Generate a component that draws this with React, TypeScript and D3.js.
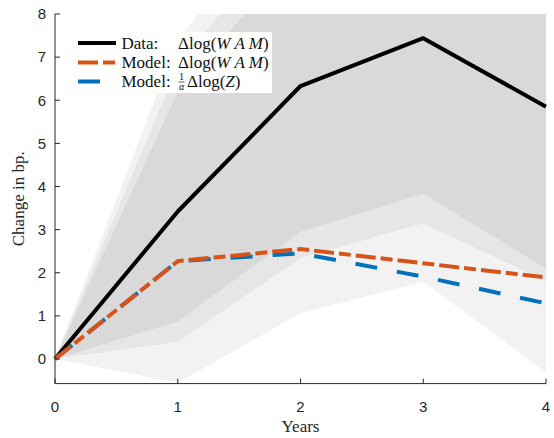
import * as d3 from 'd3';

// horizon in years
const years = [0, 1, 2, 3, 4];

// impulse responses (change in bp.)
const dataWAM = [0, 3.42, 6.33, 7.44, 5.85];
const modelWAM = [0, 2.27, 2.55, 2.22, 1.89];
const modelZ = [0, 2.27, 2.45, 1.91, 1.29];

// confidence bands around the data response, inner -> outer
const innerLo = [0, 0.87, 2.95, 3.83, 2.1];
const innerHi = [0, 6.2, 9.5, 11, 10];
const midLo = [0, 0.4, 2.34, 3.15, 1.8];
const midHi = [0, 6.8, 10.3, 12, 11];
const outerLo = [0, -0.55, 1.06, 1.79, -0.3];
const outerHi = [0, 7.4, 11, 13, 12];

const yTicks = [0, 1, 2, 3, 4, 5, 6, 7, 8];
const xTicks = [0, 1, 2, 3, 4];

const width = 554;
const height = 438;
const margin = { top: 14, right: 8, bottom: 54.4, left: 55 };

const axisColor = '#262626';
const sans = '"Liberation Sans", Arial, sans-serif';
const serif = '"Liberation Serif", "Times New Roman", serif';

function App() {
  const x = d3.scaleLinear().domain([0, 4]).range([margin.left, width - margin.right]);
  const y = d3.scaleLinear().domain([-0.57, 8]).range([height - margin.bottom, margin.top]);

  const band = (lo: number[], hi: number[]) =>
    d3.area<number>()
      .x((d) => x(d))
      .y0((d, i) => y(lo[i]))
      .y1((d, i) => y(hi[i]))(years) || '';

  const line = (vals: number[]) =>
    d3.line<number>()
      .x((d) => x(d))
      .y((d, i) => y(vals[i]))(years) || '';

  const [x0, x1] = x.range();
  const [yb, yt] = y.range();

  return (
    <svg width={width} height={height} style={{ position: 'fixed', left: 0, top: 0, background: '#fff' }}>
      <defs>
        <clipPath id="plot">
          <rect x={x0} y={yt} width={x1 - x0} height={yb - yt} />
        </clipPath>
      </defs>

      {/* shaded bands */}
      <g clipPath="url(#plot)">
        <path d={band(outerLo, outerHi)} fill="#f2f2f2" />
        <path d={band(midLo, midHi)} fill="#e6e6e6" />
        <path d={band(innerLo, innerHi)} fill="#d9d9d9" />
      </g>

      {/* lines */}
      <g fill="none" strokeWidth={4}>
        <path d={line(dataWAM)} stroke="#000" strokeLinejoin="round" />
        <path d={line(modelZ)} stroke="#0072bd" strokeDasharray="22,20" />
        <path d={line(modelWAM)} stroke="#d95319" strokeDasharray="20,5,12,5" />
      </g>

      {/* axes */}
      <g stroke={axisColor} strokeWidth={1} fill="none">
        <line x1={x0} x2={x0} y1={yt} y2={yb} />
        <line x1={x0} x2={x1} y1={yb} y2={yb} />
        {yTicks.map((t) => (
          <line key={'yt' + t} x1={x0} x2={x0 + 5} y1={y(t)} y2={y(t)} />
        ))}
        {xTicks.map((t) => (
          <line key={'xt' + t} x1={x(t)} x2={x(t)} y1={yb} y2={yb - 5} />
        ))}
      </g>
      <g fill={axisColor} fontFamily={sans} fontSize={15}>
        {yTicks.map((t) => (
          <text key={'yl' + t} x={x0 - 9} y={y(t)} dy="0.35em" textAnchor="end">{t}</text>
        ))}
        {xTicks.map((t) => (
          <text key={'xl' + t} x={x(t)} y={411.5} textAnchor="middle">{t}</text>
        ))}
      </g>

      {/* axis titles */}
      <text x={(x0 + x1) / 2} y={432} textAnchor="middle" fontFamily={serif} fontSize={17} fill={axisColor}>Years</text>
      <text transform={`translate(24, ${(yt + yb) / 2}) rotate(-90)`} textAnchor="middle" fontFamily={serif} fontSize={17} fill={axisColor}>Change in bp.</text>

      {/* legend */}
      <g>
        <rect x={66} y={32} width={206} height={61} fill="#fff" />
        <line x1={78} x2={116} y1={43} y2={43} stroke="#000" strokeWidth={4} />
        <line x1={78} x2={116} y1={62.5} y2={62.5} stroke="#d95319" strokeWidth={4} strokeDasharray="20,5,12,5" />
        <line x1={78} x2={116} y1={81.5} y2={81.5} stroke="#0072bd" strokeWidth={4} strokeDasharray="22,20" />
        <g fontFamily={serif} fontSize={17} fill="#111">
          <text x={121.5} y={48.5}>Data:</text>
          <text x={178} y={48.5}>Δlog(<tspan fontStyle="italic">W A M</tspan>)</text>
          <text x={121.5} y={68}>Model:</text>
          <text x={178} y={68}>Δlog(<tspan fontStyle="italic">W A M</tspan>)</text>
          <text x={121.5} y={87}>Model:</text>
          <text x={181.5} y={80} fontSize={10} textAnchor="middle">1</text>
          <line x1={178.5} x2={184.5} y1={82} y2={82} stroke="#111" strokeWidth={0.7} />
          <text x={181.5} y={90} fontSize={10} fontStyle="italic" textAnchor="middle">α</text>
          <text x={187} y={87}>Δlog(<tspan fontStyle="italic">Z</tspan>)</text>
        </g>
      </g>
    </svg>
  );
}

export default App;
